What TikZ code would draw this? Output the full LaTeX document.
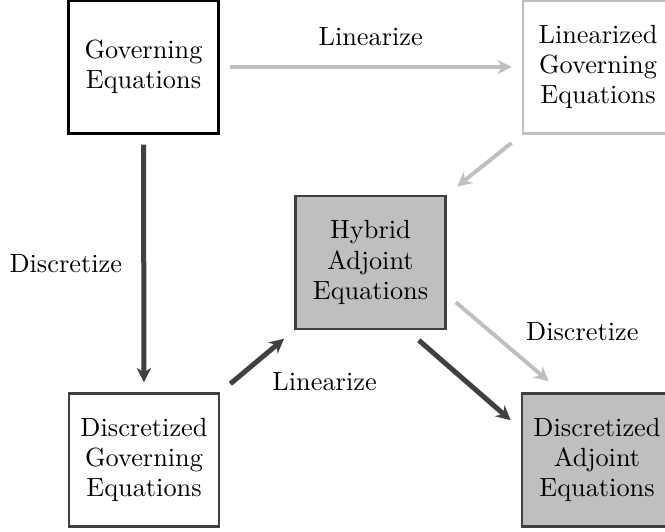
\documentclass[tikz,border=0pt]{standalone}
\usetikzlibrary{arrows.meta}
\begin{document}
\begin{tikzpicture}[x=0.38pt,y=-0.38pt,
    eqbox/.style={draw, minimum width=57pt, minimum height=50.5pt, inner sep=0pt,
        align=center, font=\fontsize{10}{11.5}\selectfont},
    contbox/.style={eqbox, draw=black, line width=0.8pt},
    linbox/.style={eqbox, draw=gray!50, line width=0.9pt},
    discbox/.style={eqbox, draw=black!75, line width=1pt},
    adjbox/.style={discbox, fill=gray!50},
    darkarrow/.style={draw=black!75, line width=1.9pt,
        -{Stealth[length=5.5pt, width=5.5pt, inset=1.8pt]}},
    lightarrow/.style={draw=gray!50, line width=1.5pt,
        -{Stealth[length=5.5pt, width=5.5pt, inset=1.8pt]}}]
    \useasboundingbox (0,0) rectangle (665,531);

    % boxes
    \node[contbox] (gov) at (143.5,67) {Governing\\Equations};
    \node[linbox]  (lin) at (598,67) {Linearized\\Governing\\Equations};
    \node[adjbox]  (hyb) at (370.5,262.5) {Hybrid\\Adjoint\\Equations};
    \node[discbox] (dgov) at (144,460) {Discretized\\Governing\\Equations};
    \node[adjbox]  (dadj) at (597,460) {Discretized\\Adjoint\\Equations};

    % continuous route
    \draw[lightarrow, shorten <=3.8pt, shorten >=3.8pt] (gov) -- node[above=4pt]{Linearize} (lin);
    \draw[lightarrow, shorten <=5pt, shorten >=5pt] (lin.south west) -- (hyb.north east);
    \draw[lightarrow] ([shift={(9,-28)}]hyb.south east) -- node[midway, anchor=west, xshift=5pt, yshift=4pt]{Discretize} ([shift={(28,-11)}]dadj.north west);

    % discrete route
    \draw[darkarrow, shorten <=3.8pt, shorten >=3.8pt] (gov) -- node[left=4pt]{Discretize} (dgov);
    \draw[darkarrow, shorten <=5pt, shorten >=5pt] (dgov.north east) -- node[midway, anchor=north west, xshift=1.5pt]{Linearize} (hyb.south west);
    \draw[darkarrow] ([shift={(-28,10)}]hyb.south east) -- ([shift={(-10,28)}]dadj.north west);
\end{tikzpicture}
\end{document}
